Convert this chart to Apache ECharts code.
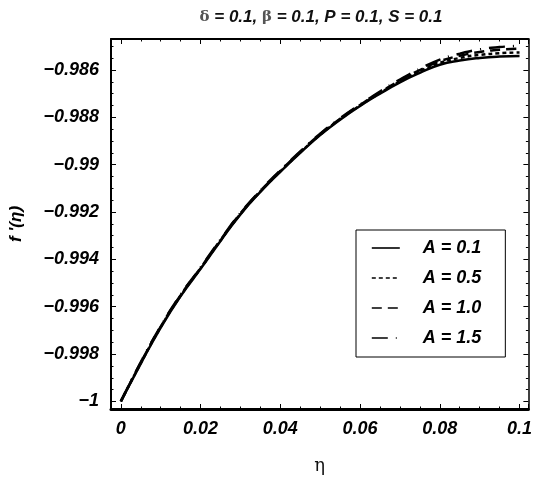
<!DOCTYPE html>
<html>
<head>
<meta charset="utf-8">
<script src="https://cdn.jsdelivr.net/npm/echarts@6/dist/echarts.min.js"></script>
<style>html,body{margin:0;padding:0;background:#fff;}#c{width:535px;height:480px;}</style>
</head>
<body>
<div id="c"></div>
<script>
// eta grid (x values)
const eta = [0, 0.005, 0.01, 0.015, 0.02, 0.025, 0.03, 0.035, 0.04, 0.045, 0.05,
             0.055, 0.06, 0.065, 0.07, 0.075, 0.08, 0.085, 0.09, 0.095, 0.1];
// f'(eta) for each A
const fA01 = [-1.00000,-0.99840,-0.99688,-0.99555,-0.99440,-0.99322,-0.99210,-0.99115,-0.99030,-0.98950,-0.98875,-0.98810,-0.98752,-0.98700,-0.98652,-0.98612,-0.98578,-0.98560,-0.98549,-0.98543,-0.98541];
const fA05 = [-1.00000,-0.99838,-0.99686,-0.99553,-0.99438,-0.99320,-0.99208,-0.99113,-0.99028,-0.98948,-0.98873,-0.98808,-0.98750,-0.98697,-0.98648,-0.98605,-0.98570,-0.98549,-0.98536,-0.98529,-0.98526];
const fA10 = [-1.00000,-0.99836,-0.99684,-0.99551,-0.99436,-0.99318,-0.99206,-0.99111,-0.99026,-0.98946,-0.98871,-0.98806,-0.98748,-0.98694,-0.98644,-0.98600,-0.98563,-0.98540,-0.98524,-0.98514,-0.98510];
const fA15 = [-1.00000,-0.99834,-0.99682,-0.99549,-0.99434,-0.99316,-0.99204,-0.99109,-0.99024,-0.98944,-0.98869,-0.98804,-0.98746,-0.98691,-0.98640,-0.98595,-0.98556,-0.98531,-0.98513,-0.98503,-0.98498];
const seriesNames = ['A = 0.1', 'A = 0.5', 'A = 1.0', 'A = 1.5'];
const xTickStep = 0.02;
const yTickStep = 0.002;

const FONT = "'Liberation Sans Narrow', 'Arial Narrow', 'Liberation Sans', sans-serif";
const pair = (ys) => eta.map((x, i) => [x, ys[i]]);
const dashes = ['solid', [4, 3], [10, 6], [16, 8, 1, 8]];
const allData = [fA01, fA05, fA10, fA15];

function isMult(v, step) {
  const r = v / step;
  return Math.abs(r - Math.round(r)) < 1e-6;
}
function fmt(v) {
  return String(+v.toFixed(4)).replace('-', '\u2212');
}

const xRange = { min: -0.00247, max: 0.10222 };
const yRange = { min: -1.00032, max: -0.98469 };

const tickCommon = { show: true, inside: true, length: 5, lineStyle: { color: '#000', width: 1 } };
const minorCommon = { show: true, splitNumber: 4, length: 2.5, lineStyle: { color: '#000', width: 1 } };

const chart = echarts.init(document.getElementById('c'), null, { renderer: 'canvas' });
chart.setOption({
  animation: false,
  backgroundColor: '#fff',
  title: {
    text: '{g|δ}{b| = 0.1, }{g|β}{b| = 0.1, P = 0.1, S = 0.1}',
    left: 316, top: 4, textAlign: 'center',
    textStyle: {
      rich: {
        g: { fontFamily: 'DejaVu Serif, serif', fontSize: 15, color: '#555' },
        b: { fontFamily: FONT, fontSize: 17, fontWeight: 'bold', fontStyle: 'italic', color: '#111' }
      }
    }
  },
  grid: { left: 109, right: 2, top: 39, bottom: 59.5, containLabel: false },
  legend: {
    orient: 'vertical', left: 356, top: 230,
    data: seriesNames,
    backgroundColor: '#fff',
    borderColor: '#000', borderWidth: 1,
    padding: [9, 24, 10, 15],
    itemWidth: 28, itemHeight: 10, itemGap: 12,
    itemStyle: { opacity: 0, borderWidth: 0 },
    lineStyle: { width: 1.6 },
    textStyle: { fontFamily: FONT, fontSize: 18, fontWeight: 'bold', fontStyle: 'italic', color: '#000', padding: [0, 0, 0, 18] }
  },
  xAxis: [
    {
      type: 'value', min: xRange.min, max: xRange.max, splitNumber: 5,
      name: 'η', nameLocation: 'middle', nameGap: 48,
      nameTextStyle: { fontFamily: 'DejaVu Serif, serif', fontSize: 18, color: '#111' },
      axisLine: { show: true, onZero: false, lineStyle: { color: '#000', width: 3 } },
      axisTick: tickCommon, minorTick: minorCommon,
      splitLine: { show: false },
      axisLabel: {
        margin: 11, fontFamily: FONT, fontSize: 18, fontWeight: 'bold', fontStyle: 'italic', color: '#000',
        formatter: v => isMult(v, xTickStep) ? fmt(v) : ''
      }
    },
    {
      type: 'value', position: 'top', min: xRange.min, max: xRange.max, splitNumber: 5,
      axisLine: { show: true, onZero: false, lineStyle: { color: '#000', width: 2 } },
      axisTick: tickCommon, minorTick: minorCommon,
      splitLine: { show: false }, axisLabel: { show: false }
    }
  ],
  yAxis: [
    {
      type: 'value', min: yRange.min, max: yRange.max, splitNumber: 8,
      name: "f '(η)", nameLocation: 'middle', nameGap: 86, nameRotate: 90,
      nameTextStyle: { fontFamily: FONT, fontSize: 17, fontWeight: 'bold', fontStyle: 'italic', color: '#000' },
      axisLine: { show: true, onZero: false, lineStyle: { color: '#000', width: 2 } },
      axisTick: tickCommon, minorTick: minorCommon,
      splitLine: { show: false },
      axisLabel: {
        margin: 12, fontFamily: FONT, fontSize: 18, fontWeight: 'bold', fontStyle: 'italic', color: '#000',
        formatter: v => isMult(v, yTickStep) ? fmt(v) : ''
      }
    },
    {
      type: 'value', position: 'right', min: yRange.min, max: yRange.max, splitNumber: 8,
      axisLine: { show: true, onZero: false, lineStyle: { color: '#000', width: 1.5 } },
      axisTick: tickCommon, minorTick: minorCommon,
      splitLine: { show: false }, axisLabel: { show: false }
    }
  ],
  series: seriesNames.map((name, i) => ({
    name: name, type: 'line', data: pair(allData[i]),
    xAxisIndex: 0, yAxisIndex: 0,
    showSymbol: false, symbol: 'none', smooth: true,
    lineStyle: { color: '#000', width: 2.5, type: dashes[i] },
    itemStyle: { color: '#000' }
  }))
});
</script>
</body>
</html>
